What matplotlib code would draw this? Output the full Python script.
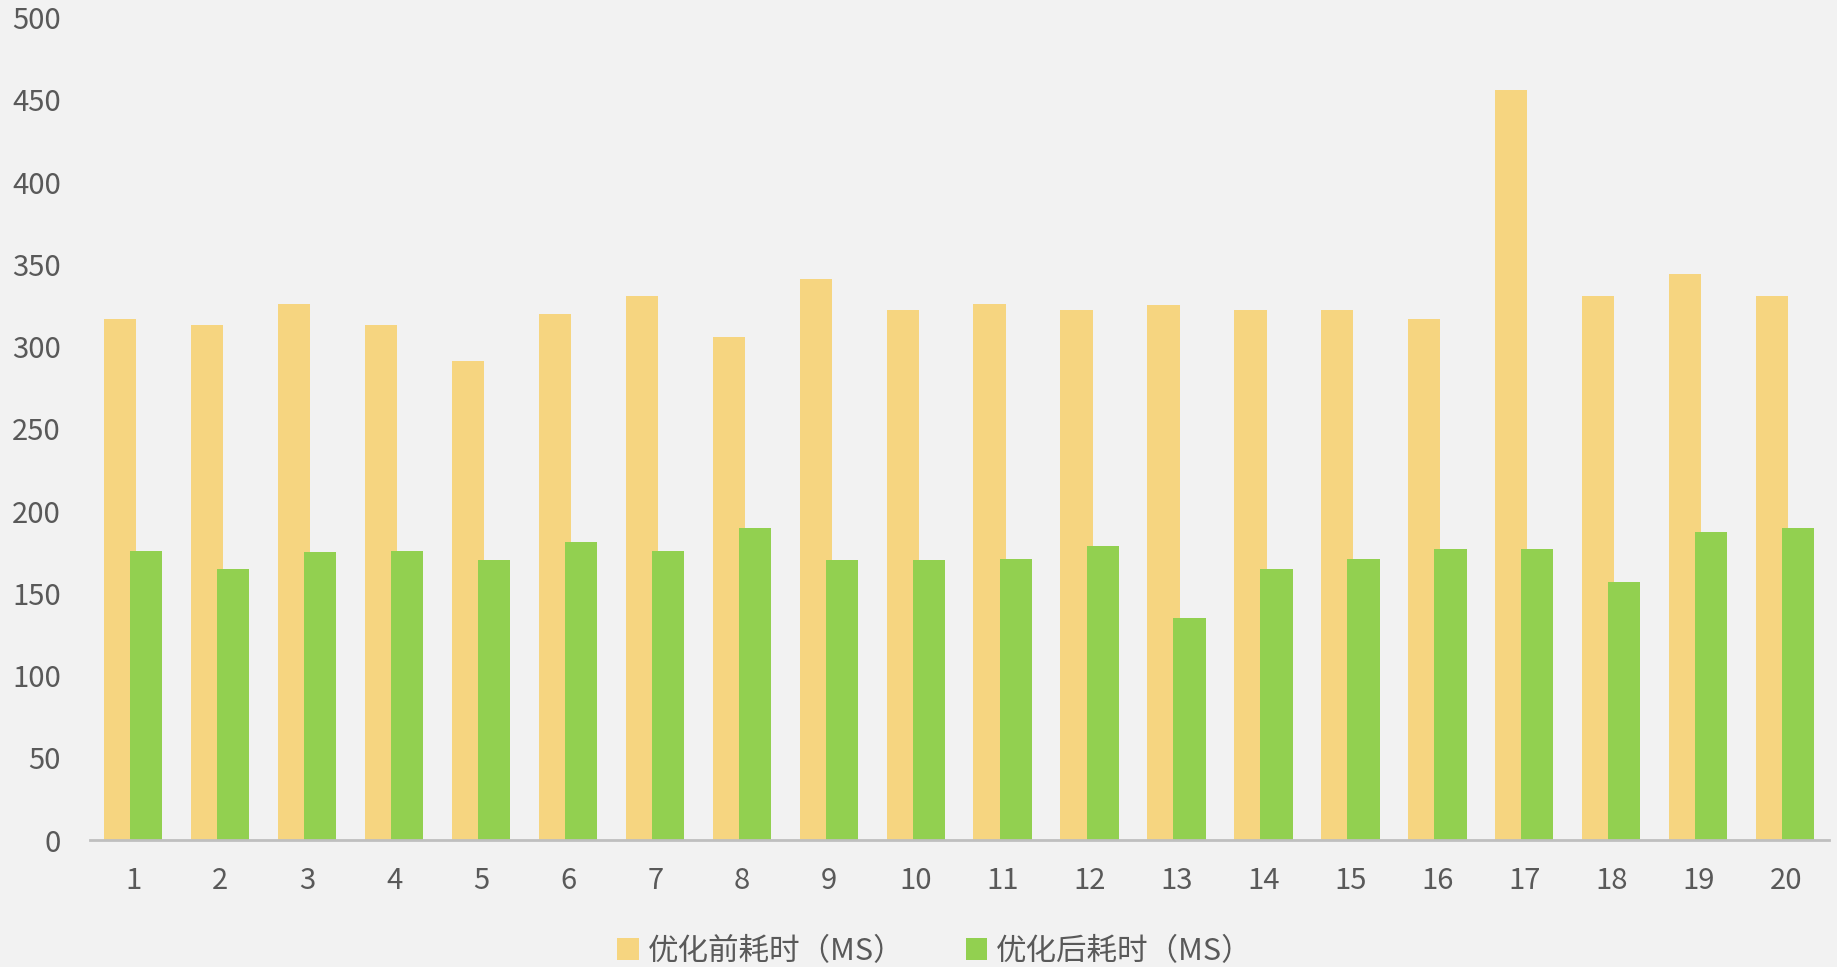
import matplotlib.pyplot as plt
import numpy as np

plt.rcParams['font.family'] = ['Noto Sans CJK SC', 'DejaVu Sans']

runs = [str(i) for i in range(1, 21)]
before_ms = [317, 313, 326, 313, 291, 320, 331, 306, 341, 322,
             326, 322, 325, 322, 322, 317, 456, 331, 344, 331]
after_ms = [176, 165, 175, 176, 170, 181, 176, 190, 170, 170,
            171, 179, 135, 165, 171, 177, 177, 157, 187, 190]
labels = ['优化前耗时（MS）', '优化后耗时（MS）']

bg = '#F2F2F2'
yellow = '#F6D580'
green = '#92D050'
text_col = '#595959'

fig = plt.figure(figsize=(18.37, 9.67), dpi=100, facecolor=bg)
ax = fig.add_axes([0.049, 0.1313, 0.9467, 0.8505], facecolor=bg)

x = np.arange(len(runs))
w = 0.37
ax.bar(x - 0.155, before_ms, w, color=yellow, label=labels[0], zorder=2)
ax.bar(x + 0.145, after_ms, w, color=green, label=labels[1], zorder=3)

ax.set_xlim(-0.5, len(runs) - 0.5)
ax.set_ylim(0, 500)
ax.set_yticks(range(0, 501, 50))
ax.set_xticks(x)
ax.set_xticklabels(runs)

for s in ['top', 'right', 'left']:
    ax.spines[s].set_visible(False)
ax.spines['bottom'].set_color('#BFBFBF')
ax.spines['bottom'].set_linewidth(2)
ax.spines['bottom'].set_zorder(4)

ax.tick_params(axis='both', length=0, labelsize=21, colors=text_col)
ax.tick_params(axis='x', pad=19)
ax.tick_params(axis='y', pad=21)

leg = fig.legend(loc='lower center', bbox_to_anchor=(0.509, -0.028), ncol=2,
                 frameon=False, fontsize=22, handlelength=0.7, handleheight=0.7,
                 handletextpad=0.3, columnspacing=2.0)
for t in leg.get_texts():
    t.set_color(text_col)

fig.savefig('out.png', dpi=100, facecolor=bg)
plt.close(fig)
